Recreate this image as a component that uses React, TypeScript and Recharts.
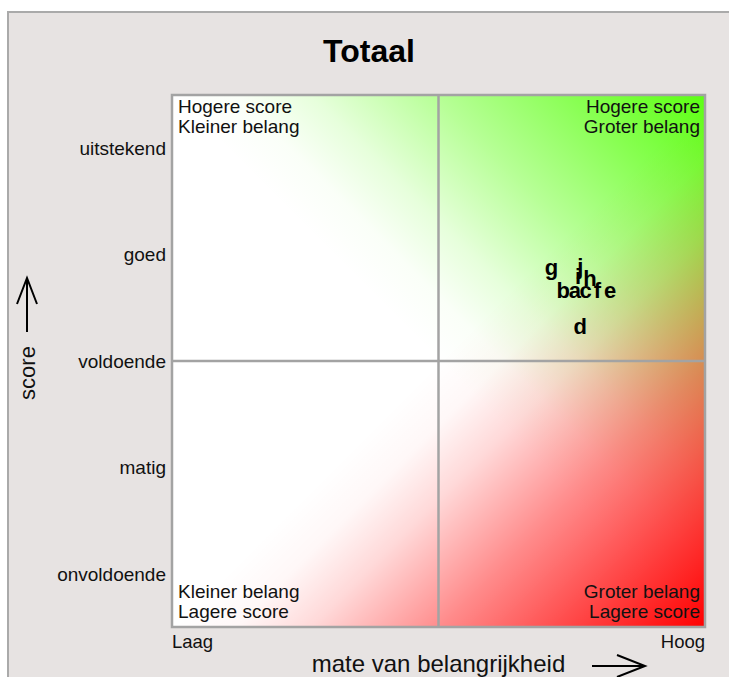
import React from 'react';
import { ScatterChart, Scatter, XAxis, YAxis, ReferenceArea, ReferenceLine } from 'recharts';

// score levels (y) and importance ends (x)
const scoreTicks = [1, 2, 3, 4, 5];
const scoreLabels = ['onvoldoende', 'matig', 'voldoende', 'goed', 'uitstekend'];
const belangTicks = [0.5, 5.5];
const belangLabels = ['Laag', 'Hoog'];

// items
const itemNames = ['a', 'b', 'c', 'd', 'e', 'f', 'g', 'h', 'i', 'j'];
const belangValues = [4.28, 4.17, 4.38, 4.33, 4.61, 4.49, 4.06, 4.42, 4.31, 4.33];
const scoreValues = [3.65, 3.65, 3.65, 3.31, 3.65, 3.65, 3.86, 3.76, 3.78, 3.87];

const quadrantTexts = [
  ['Hogere score', 'Kleiner belang'],
  ['Hogere score', 'Groter belang'],
  ['Kleiner belang', 'Lagere score'],
  ['Groter belang', 'Lagere score'],
];

const FONT = '"Liberation Sans", Arial, Helvetica, sans-serif';
const GRID = '#a3a3a3';
// fade-in of the colour washes along the diagonal
const washStops: [number, number][] = [[0.5, 0], [0.56, 0.03], [0.63, 0.15], [0.75, 0.45], [0.875, 0.73], [1, 1]];

const data = itemNames.map((name, i) => ({ name, belang: belangValues[i], score: scoreValues[i] }));

const quadLabel = (lines: string[], corner: string) => (props: any) => {
  const { x, y, width, height } = props.viewBox;
  const right = corner.endsWith('r');
  const top = corner.startsWith('t');
  const tx = right ? x + width - 5 : x + 6;
  const y0 = top ? y + 18 : y + height - 29;
  return (
    <g>
      {lines.map((l, i) => (
        <text key={i} x={tx} y={y0 + i * 20} textAnchor={right ? 'end' : 'start'}
          fontSize={19} fontFamily={FONT} fill="#111">{l}</text>
      ))}
    </g>
  );
};

const BelangTick = (props: any) => {
  const { x, y, payload, index } = props;
  return (
    <text x={x} y={y + 21} textAnchor={index === 0 ? 'start' : 'end'}
      fontSize={18.5} fontFamily={FONT} fill="#111">
      {belangLabels[belangTicks.indexOf(payload.value)]}
    </text>
  );
};

const LetterShape = (props: any) => (
  <text x={props.cx} y={props.cy + 6} textAnchor="middle" fontSize={22}
    fontWeight="bold" fontFamily={FONT} fill="#000">{props.payload.name}</text>
);

const XTitle = (props: any) => {
  const { x, y, width } = props.viewBox;
  const cx = x + width / 2;
  return (
    <g>
      <text x={cx} y={y + 45} textAnchor="middle" fontSize={24} fontFamily={FONT} fill="#111">
        mate van belangrijkheid
      </text>
      <line x1={420 + x} y1={y + 39} x2={473 + x} y2={y + 39} stroke="#000" strokeWidth={2} />
      <polyline points={`${445 + x},${y + 28} ${473 + x},${y + 39} ${445 + x},${y + 50}`}
        fill="none" stroke="#000" strokeWidth={2} />
    </g>
  );
};

const YTitle = (props: any) => {
  const { x, y, height } = props.viewBox;
  const ax = x + 5;
  const cy = y + height / 2;
  return (
    <g>
      <text x={ax} y={cy + 12} transform={`rotate(-90 ${ax} ${cy + 12})`} textAnchor="middle"
        dy="0.35em" fontSize={22} fontFamily={FONT} fill="#111">score</text>
      <line x1={ax} y1={cy - 83} x2={ax} y2={cy - 29} stroke="#000" strokeWidth={2} />
      <polyline points={`${ax - 10},${cy - 57} ${ax},${cy - 83} ${ax + 10},${cy - 57}`}
        fill="none" stroke="#000" strokeWidth={2} />
    </g>
  );
};

export default function App() {
  return (
    <div style={{ position: 'absolute', left: 0, top: 0, width: 729, height: 677, overflow: 'hidden' }}>
      <div style={{
        position: 'absolute', left: 7, top: 11, width: 760, height: 720,
        background: '#e7e3e2', border: '2px solid #aaaaaa',
      }} />
      <div style={{
        position: 'absolute', left: 0, top: 35, width: 738, textAlign: 'center',
        fontFamily: FONT, fontWeight: 'bold', fontSize: 32, lineHeight: '32px', color: '#000',
      }}>Totaal</div>
      <div style={{ position: 'absolute', left: 0, top: 0 }}>
        <ScatterChart width={729} height={677} margin={{ top: 95, right: 24, bottom: 0, left: 22 }}>
          <defs>
            <linearGradient id="greenGrad" x1="0" y1="1" x2="1" y2="0">
              {washStops.map(([o, a]) => <stop key={o} offset={o} stopColor="#5cff12" stopOpacity={a} />)}
            </linearGradient>
            <linearGradient id="redGrad" x1="0" y1="0" x2="1" y2="1">
              {washStops.map(([o, a]) => <stop key={o} offset={o} stopColor="#ff0000" stopOpacity={a} />)}
            </linearGradient>
          </defs>
          <XAxis type="number" dataKey="belang" domain={[0.5, 5.5]} ticks={belangTicks}
            tick={<BelangTick />} tickLine={false} axisLine={false} tickSize={0} tickMargin={0}
            height={50} interval={0} label={XTitle} />
          <YAxis type="number" dataKey="score" domain={[0.5, 5.5]} ticks={scoreTicks}
            tickFormatter={(v: number) => scoreLabels[scoreTicks.indexOf(v)]}
            tick={{ fill: '#111', fontSize: 19, fontFamily: FONT }} tickLine={false} axisLine={false}
            tickSize={0} tickMargin={6} width={150} interval={0} label={YTitle} />
          <ReferenceArea x1={0.5} x2={5.5} y1={0.5} y2={5.5} fill="#ffffff" fillOpacity={1} stroke="none" />
          <ReferenceArea x1={0.5} x2={5.5} y1={0.5} y2={5.5} fill="url(#greenGrad)" fillOpacity={1} stroke="none" />
          <ReferenceArea x1={0.5} x2={5.5} y1={0.5} y2={5.5} fill="url(#redGrad)" fillOpacity={1} stroke="none" />
          <ReferenceLine x={3} stroke={GRID} strokeWidth={2.5} />
          <ReferenceLine y={3} stroke={GRID} strokeWidth={2.5} />
          <ReferenceArea x1={0.5} x2={5.5} y1={0.5} y2={5.5} fill="none" stroke={GRID} strokeWidth={2.5} />
          <ReferenceArea x1={0.5} x2={3} y1={3} y2={5.5} fill="none" stroke="none" label={quadLabel(quadrantTexts[0], 'tl')} />
          <ReferenceArea x1={3} x2={5.5} y1={3} y2={5.5} fill="none" stroke="none" label={quadLabel(quadrantTexts[1], 'tr')} />
          <ReferenceArea x1={0.5} x2={3} y1={0.5} y2={3} fill="none" stroke="none" label={quadLabel(quadrantTexts[2], 'bl')} />
          <ReferenceArea x1={3} x2={5.5} y1={0.5} y2={3} fill="none" stroke="none" label={quadLabel(quadrantTexts[3], 'br')} />
          <Scatter data={data} shape={LetterShape} isAnimationActive={false} />
        </ScatterChart>
      </div>
    </div>
  );
}
